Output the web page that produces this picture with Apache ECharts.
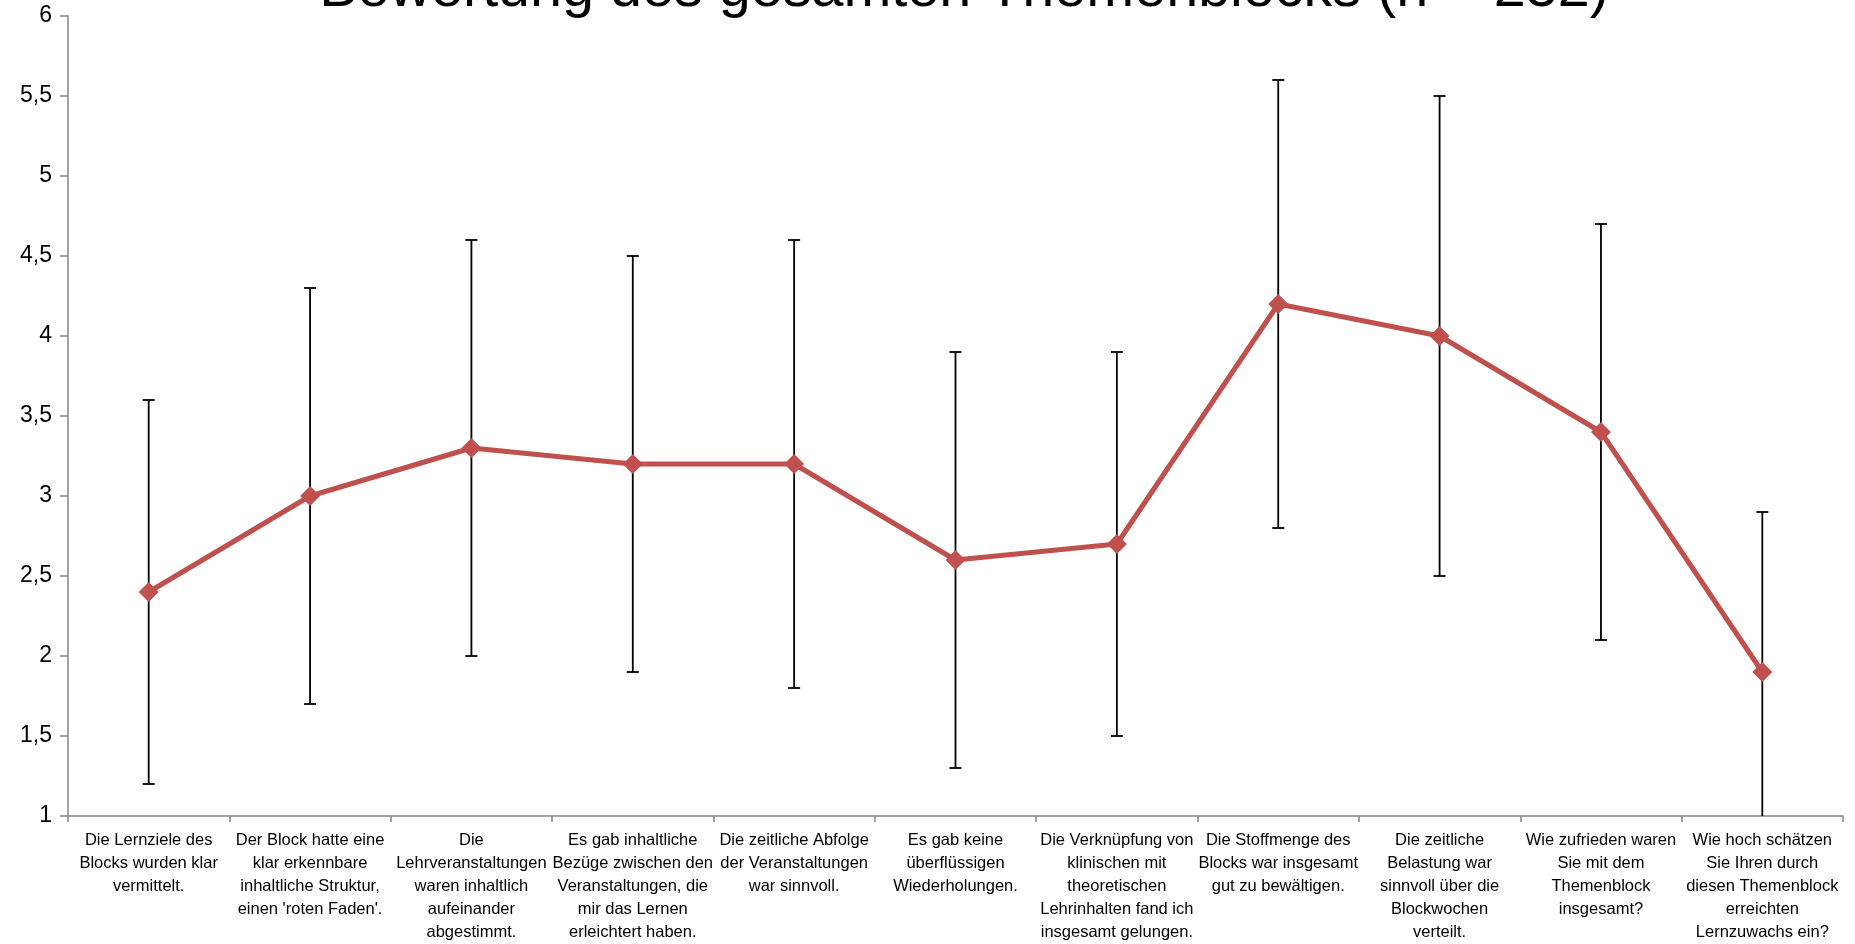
<!DOCTYPE html>
<html>
<head>
<meta charset="utf-8">
<script src="https://cdn.jsdelivr.net/npm/echarts@6/dist/echarts.min.js"></script>
<style>html,body{margin:0;padding:0;background:#fff;}#c{width:1855px;height:944px;}</style>
</head>
<body>
<div id="c"></div>
<script>
const titleText = 'Bewertung des gesamten Themenblocks (n = 252)';
const categories = [
  'Die Lernziele des\nBlocks wurden klar\nvermittelt.',
  'Der Block hatte eine\nklar erkennbare\ninhaltliche Struktur,\neinen \'roten Faden\'.',
  'Die\nLehrveranstaltungen\nwaren inhaltlich\naufeinander\nabgestimmt.',
  'Es gab inhaltliche\nBezüge zwischen den\nVeranstaltungen, die\nmir das Lernen\nerleichtert haben.',
  'Die zeitliche Abfolge\nder Veranstaltungen\nwar sinnvoll.',
  'Es gab keine\nüberflüssigen\nWiederholungen.',
  'Die Verknüpfung von\nklinischen mit\ntheoretischen\nLehrinhalten fand ich\ninsgesamt gelungen.',
  'Die Stoffmenge des\nBlocks war insgesamt\ngut zu bewältigen.',
  'Die zeitliche\nBelastung war\nsinnvoll über die\nBlockwochen\nverteilt.',
  'Wie zufrieden waren\nSie mit dem\nThemenblock\ninsgesamt?',
  'Wie hoch schätzen\nSie Ihren durch\ndiesen Themenblock\nerreichten\nLernzuwachs ein?'
];
const means = [2.4, 3.0, 3.3, 3.2, 3.2, 2.6, 2.7, 4.2, 4.0, 3.4, 1.9];
const errLow = [1.2, 1.7, 2.0, 1.9, 1.8, 1.3, 1.5, 2.8, 2.5, 2.1, 0.9];
const errHigh = [3.6, 4.3, 4.6, 4.5, 4.6, 3.9, 3.9, 5.6, 5.5, 4.7, 2.9];
const yMin = 1, yMax = 6, yStep = 0.5;

const chart = echarts.init(document.getElementById('c'));
const errData = categories.map((c, i) => [i, errLow[i], errHigh[i]]);

chart.setOption({
  animation: false,
  backgroundColor: '#fff',
  graphic: [{
    type: 'text',
    x: 964,
    y: -39,
    style: {
      text: titleText,
      fontFamily: 'Liberation Sans',
      fontSize: 57.5,
      fill: '#000',
      align: 'center',
      verticalAlign: 'top'
    }
  }],
  grid: { left: 68, right: 12, top: 16, bottom: 128, containLabel: false },
  xAxis: {
    type: 'category',
    data: categories,
    boundaryGap: true,
    axisLine: { lineStyle: { color: '#868686', width: 1.5 } },
    axisTick: { show: true, length: 6, lineStyle: { color: '#868686', width: 1.5 } },
    axisLabel: {
      interval: 0,
      margin: 13,
      fontFamily: 'Liberation Sans',
      fontSize: 16.5,
      lineHeight: 23,
      color: '#000',
      align: 'center'
    },
    splitLine: { show: false }
  },
  yAxis: {
    type: 'value',
    min: yMin,
    max: yMax,
    interval: yStep,
    axisLine: { show: true, lineStyle: { color: '#868686', width: 1.5 } },
    axisTick: { show: true, length: 8, lineStyle: { color: '#868686', width: 1.5 } },
    axisLabel: {
      margin: 16,
      fontFamily: 'Liberation Sans',
      fontSize: 23,
      color: '#000',
      formatter: v => String(v).replace('.', ',')
    },
    splitLine: { show: false }
  },
  series: [
    {
      type: 'custom',
      z: 1,
      clip: true,
      data: errData,
      encode: { x: 0, y: [1, 2] },
      renderItem: function (params, api) {
        const i = api.value(0);
        const lo = api.value(1), hi = api.value(2);
        const loC = Math.max(lo, yMin), hiC = Math.min(hi, yMax);
        const pLo = api.coord([i, loC]);
        const pHi = api.coord([i, hiC]);
        const cap = 6;
        const st = { stroke: '#000', lineWidth: 1.8 };
        const children = [
          { type: 'line', shape: { x1: pLo[0], y1: pLo[1], x2: pHi[0], y2: pHi[1] }, style: st }
        ];
        if (hi <= yMax) children.push({ type: 'line', shape: { x1: pHi[0] - cap, y1: pHi[1], x2: pHi[0] + cap, y2: pHi[1] }, style: st });
        if (lo >= yMin) children.push({ type: 'line', shape: { x1: pLo[0] - cap, y1: pLo[1], x2: pLo[0] + cap, y2: pLo[1] }, style: st });
        return { type: 'group', children: children };
      }
    },
    {
      type: 'line',
      z: 3,
      data: means,
      symbol: 'diamond',
      symbolSize: 20,
      lineStyle: { color: '#C0504D', width: 5 },
      itemStyle: { color: '#C0504D' }
    }
  ]
});
</script>
</body>
</html>
